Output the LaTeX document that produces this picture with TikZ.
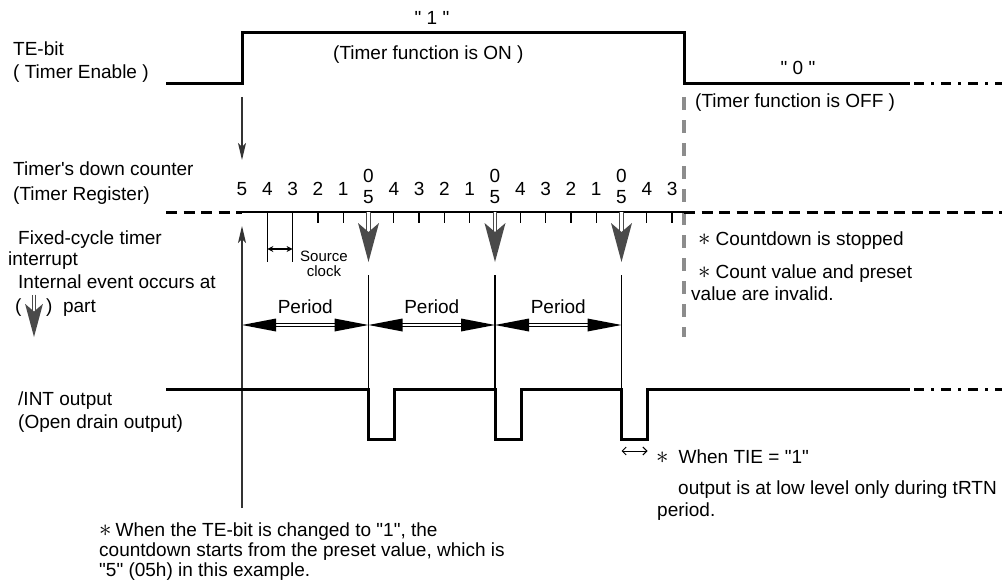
\documentclass[tikz,border=0pt]{standalone}
\usepackage{fontspec}
\setmainfont{Liberation Sans}[Ligatures=TeXOff]
\usetikzlibrary{arrows.meta,calc}
\definecolor{garrow}{HTML}{4A4A4A}
\definecolor{gdash}{HTML}{8C8C8C}
\definecolor{dline}{HTML}{333333}
\newcommand{\tmrstar}{{\fontsize{23}{23}\selectfont$\ast$}}
\begin{document}
\begin{tikzpicture}[x=1pt,y=-1pt,
  sig/.style={line width=3pt},
  sigdd/.style={line width=3pt, dash pattern=on 10pt off 7pt on 3pt off 7pt},
  axisdash/.style={line width=3pt, dash pattern=on 11pt off 6.5pt},
  thinln/.style={line width=1.3pt},
  lbl/.style={anchor=base west, inner sep=0pt, font=\fontsize{19}{23}\selectfont},
  num/.style={anchor=base, inner sep=0pt, font=\fontsize{19}{23}\selectfont},
  smalltxt/.style={anchor=base, inner sep=0pt, font=\fontsize{15}{17}\selectfont},
  ptr/.style={line width=1.3pt, draw=dline, -{Stealth[length=17pt,width=8pt,inset=4pt]}},
  pershaft/.style={draw=black, double=white, double distance=2.2pt, line width=1pt},
  gdown/.pic={
    \draw[draw=garrow, double=white, double distance=2.6pt, line width=1.1pt] (0,-50) -- (0,-29);
    \fill[garrow] (0,0) -- (-10.5,-39) -- (0,-30) -- (10.5,-39) -- cycle;
  },
]
\useasboundingbox (0,0) rectangle (1002,586);

% ---------------- TE-bit waveform
\draw[sig] (166,84) -- (242,84) -- (242,33) -- (684,33) -- (684,84) -- (910,84);
\draw[sigdd] (914,84) -- (1002,84);
\node[lbl] (tebit) at (13,56) {TE-bit};
\node[lbl] (teen) at (13,78.3) {( Timer Enable )};
\node[num] (one) at (432,25) {" 1 "};
\node[lbl] (on) at (333,60) {(Timer function is ON )};
\node[num] (zero) at (798,75) {" 0 "};
\node[lbl] (off) at (695,107) {(Timer function is OFF )};

% grey dashed stop line
\draw[gdash, line width=4pt, dash pattern=on 13pt off 10pt] (684,97) -- (684,337);

% start arrow
\coordinate (T0) at (242,97);
\coordinate (T1) at (242,160);
\draw[ptr] (T0) -- (T1);

% ---------------- counter
\node[lbl] (tdc) at (13,175.7) {Timer's down counter};
\node[lbl] (treg) at (13,200.7) {(Timer Register)};
\foreach \k/\v in {0/5,1/4,2/3,3/2,4/1,6/4,7/3,8/2,9/1,11/4,12/3,13/2,14/1,16/4,17/3}
  \node[num] (n\k) at ({242+25.3*\k},195) {\v};
\foreach \k in {5,10,15}{
  \node[num] (z\k) at ({242+25.3*\k},182) {0};
  \node[num] (f\k) at ({242+25.3*\k},203.3) {5};
}
\draw[axisdash] (166,212) -- (242,212);
\draw[axisdash] (684,212) -- (1002,212);
\draw[thinln] (242,212) -- (684,212);
\foreach \k in {3,4,6,7,8,9,11,12,13,14,16,17}
  \draw[thinln] ({242+25.3*\k},212) -- ({242+25.3*\k},223);
\foreach \k in {1,2}
  \draw[thinln] ({242+25.3*\k},212) -- ({242+25.3*\k},262);
\coordinate (C1) at ({242+25.3},249);
\coordinate (C2) at ({242+25.3*2},249);
\draw[line width=1.2pt, {Stealth[length=6pt,width=6pt]}-{Stealth[length=6pt,width=6pt]}] (C1) -- (C2);
\node[smalltxt] (src) at (324,261.7) {Source};
\node[smalltxt] (clk) at (324,276.7) {clock};

% grey interrupt arrows
\foreach \k in {5,10,15}
  \pic at ({242+25.3*\k},262) {gdown};

% left legend
\node[lbl] (fct) at (18,244) {Fixed-cycle timer};
\node[lbl] (intr) at (8,265) {interrupt};
\node[lbl] (iev) at (18,288) {Internal event occurs at};
\node[lbl] (lp) at (15,312.7) {(};
\node[lbl] (rp) at (46,312.7) {)\ \ part};
\pic[scale=0.85] at (34,337) {gdown};

% right notes
\node[lbl] (cs) at (698,245) {\tmrstar\hspace{5pt}Countdown is stopped};
\node[lbl] (cv) at (698,278.3) {\tmrstar\hspace{5pt}Count value and preset};
\node[lbl] (cv2) at (691,300) {value are invalid.};

% ---------------- period arrows
\foreach \n/\x in {0/242,1/368.5,2/495,3/621.5}
  \coordinate (P\n) at (\x,325);
\foreach \n in {1,2,3}
  \draw[thinln] ($(P\n)+(0,-50)$) -- ($(P\n)+(0,64)$);
\foreach \a/\b in {P0/P1,P1/P2,P2/P3}{
  \draw[pershaft] ($(\a)+(30,0)$) -- ($(\b)+(-30,0)$);
  \fill (\a) -- ($(\a)+(34,-6.5)$) -- ($(\a)+(34,6.5)$) -- cycle;
  \fill (\b) -- ($(\b)+(-34,-6.5)$) -- ($(\b)+(-34,6.5)$) -- cycle;
}
\node[num] (per1) at (305.25,313.3) {Period};
\node[num] (per2) at (431.75,313.3) {Period};
\node[num] (per3) at (558.25,313.3) {Period};

% start (preset) arrow
\coordinate (S0) at (242,508);
\coordinate (S1) at (242,226);
\draw[ptr] (S0) -- (S1);

% ---------------- /INT output
\draw[sig] (166,389) -- (368.5,389) -- (368.5,439) -- (394.5,439) -- (394.5,389)
  -- (495,389) -- (495,439) -- (521,439) -- (521,389)
  -- (621.5,389) -- (621.5,439) -- (647.5,439) -- (647.5,389) -- (910,389);
\draw[sigdd] (914,389) -- (1002,389);
\node[lbl] (into) at (18,405) {/INT output};
\node[lbl] (odo) at (18,428.3) {(Open drain output)};

\coordinate (R1) at (621.5,451);
\coordinate (R2) at (647.5,451);
\draw[line width=1pt, {Straight Barb[length=4pt,width=8pt]}-{Straight Barb[length=4pt,width=8pt]}] (R1) -- (R2);
\node[lbl] (tie1) at (656,463.3) {\tmrstar\hspace{10pt}When TIE = "1"};
\node[lbl] (tie2) at (678,494) {output is at low level only during tRTN};
\node[lbl] (tie3) at (657,516.7) {period.};

% bottom note
\node[lbl] (bn1) at (99,536.7) {\tmrstar\hspace{4pt}When the TE-bit is changed to "1", the};
\node[lbl] (bn2) at (99,556.7) {countdown starts from the preset value, which is};
\node[lbl] (bn3) at (99,576.7) {"5" (05h) in this example.};
\end{tikzpicture}
\end{document}
